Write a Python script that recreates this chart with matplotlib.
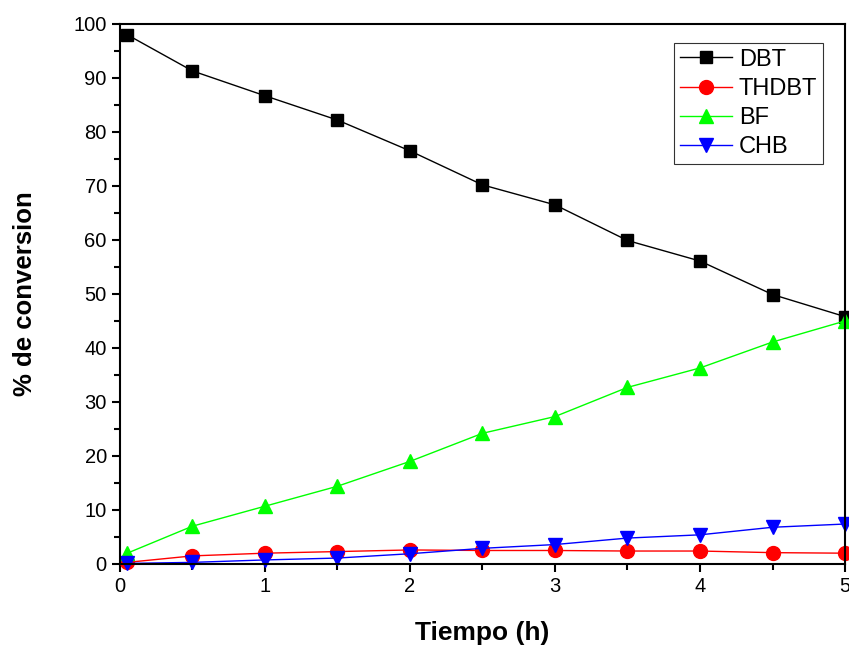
import matplotlib.pyplot as plt
from matplotlib.ticker import MultipleLocator

plt.rcParams['font.family'] = ['Liberation Sans', 'DejaVu Sans']

# datos
tiempo = [0.05, 0.5, 1, 1.5, 2, 2.5, 3, 3.5, 4, 4.5, 5]
dbt = [98.0, 91.3, 86.7, 82.2, 76.5, 70.2, 66.5, 59.9, 56.1, 49.9, 45.8]
thdbt = [0.3, 1.5, 2.0, 2.3, 2.6, 2.5, 2.5, 2.4, 2.4, 2.1, 2.0]
bf = [2.0, 7.0, 10.7, 14.4, 19.0, 24.2, 27.3, 32.7, 36.3, 41.1, 45.0]
chb = [0.1, 0.3, 0.75, 1.1, 1.9, 2.9, 3.6, 4.8, 5.4, 6.8, 7.4]

fig = plt.figure(figsize=(8.49, 6.47), dpi=100)
ax = fig.add_axes([0.1413, 0.1283, 0.8540, 0.8347])

ax.plot(tiempo, dbt, color='black', marker='s', markersize=9, lw=1, label='DBT', clip_on=False)
ax.plot(tiempo, thdbt, color='red', marker='o', markersize=10, lw=1, label='THDBT', clip_on=False)
ax.plot(tiempo, bf, color='#00ff00', marker='^', markersize=10, lw=1, label='BF', clip_on=False)
ax.plot(tiempo, chb, color='blue', marker='v', markersize=10, lw=1, label='CHB', clip_on=False)

ax.set_xlim(0, 5)
ax.set_ylim(0, 100)
ax.xaxis.set_major_locator(MultipleLocator(1))
ax.xaxis.set_minor_locator(MultipleLocator(0.5))
ax.yaxis.set_major_locator(MultipleLocator(10))
ax.yaxis.set_minor_locator(MultipleLocator(5))
ax.tick_params(which='major', direction='out', length=6, width=1.5, labelsize=14.5)
ax.tick_params(which='minor', direction='out', length=4, width=1.5)
for s in ax.spines.values():
    s.set_linewidth(1.5)

ax.set_xlabel('Tiempo (h)', fontsize=19, fontweight='bold', labelpad=18)
ax.set_ylabel('% de conversion', fontsize=18.5, fontweight='bold', labelpad=26)

leg = ax.legend(loc='upper right', bbox_to_anchor=(0.97, 0.965), frameon=True,
                fancybox=False, edgecolor='black', handlelength=2.2, handletextpad=0.3,
                labelspacing=0.3, borderpad=0.25, borderaxespad=0,
                prop={'size': 17})
leg.get_frame().set_linewidth(0.8)

fig.savefig('out.png', dpi=100)
